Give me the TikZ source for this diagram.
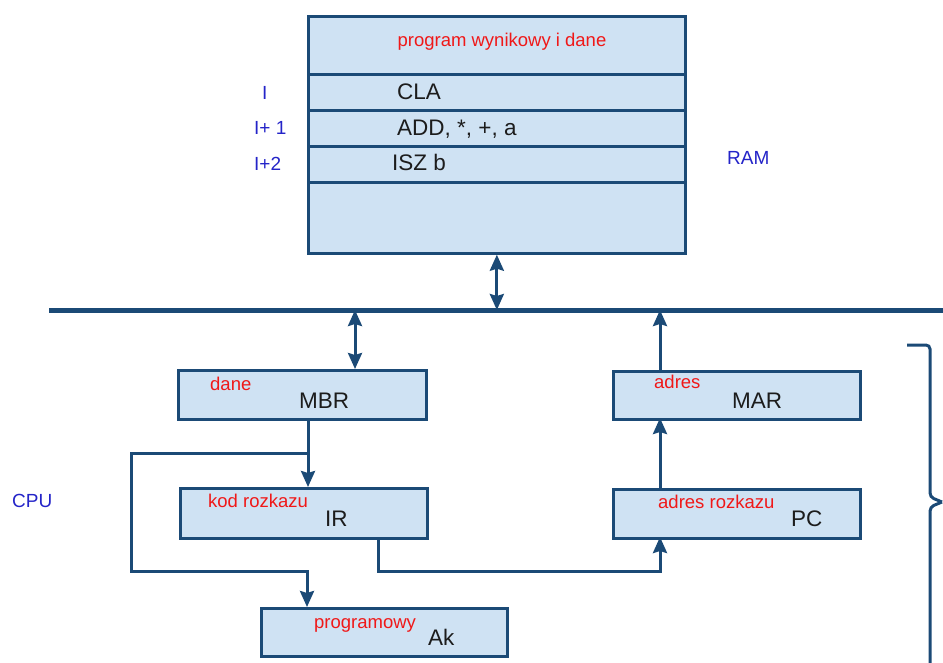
\documentclass[tikz,border=0pt]{standalone}
\usepackage{fontspec}
\setmainfont{Liberation Sans}
\usetikzlibrary{arrows.meta}
\definecolor{boxfill}{HTML}{CFE2F3}
\definecolor{navy}{HTML}{1B4A76}
\definecolor{lblblue}{HTML}{2424C8}
\definecolor{lblred}{HTML}{F01818}
\definecolor{ink}{HTML}{1C1C1C}
\tikzset{
  box/.style={draw=navy, fill=boxfill, line width=2.7pt, rectangle, inner sep=0pt, anchor=north west},
  conn/.style={draw=navy, line width=3pt, line join=miter},
  tip/.style={-{Stealth[length=16pt,width=14pt,inset=2pt]}},
  twotips/.style={{Stealth[length=16pt,width=14pt,inset=2pt]}-{Stealth[length=16pt,width=14pt,inset=2pt]}},
  busline/.style={draw=navy, line width=5pt},
  code/.style={font=\fontsize{22.5}{24}\selectfont, text=ink, inner sep=0pt, anchor=base west},
  reg/.style={font=\fontsize{22.5}{24}\selectfont, text=ink, inner sep=0pt, anchor=base west},
  tag/.style={font=\fontsize{18.5}{20}\selectfont, text=lblred, inner sep=0pt, anchor=base west},
  side/.style={font=\fontsize{19}{21}\selectfont, text=lblblue, inner sep=0pt, anchor=base west},
}
\begin{document}
\begin{tikzpicture}[x=1pt, y=-1pt]
\useasboundingbox (0,0) rectangle (943,662);

% memory block with its rows
\node[box, minimum width=377pt, minimum height=58pt] (ramhead) at (307,15) {};
\node[box, minimum width=377pt, minimum height=36pt] (row1) at (307,73) {};
\node[box, minimum width=377pt, minimum height=36pt] (row2) at (307,109) {};
\node[box, minimum width=377pt, minimum height=36pt] (row3) at (307,145) {};
\node[box, minimum width=377pt, minimum height=71pt] (ramfoot) at (307,181) {};

\node[tag, anchor=base] (ramtitle) at (502,46) {program wynikowy i dane};
\node[code] (cla) at (397,99) {CLA};
\node[code] (add) at (397,135) {ADD, *, +, a};
\node[code] (isz) at (392,170) {ISZ b};

\node[side] (addr0) at (262,99) {I};
\node[side] (addr1) at (254,134) {I+ 1};
\node[side] (addr2) at (254,170) {I+2};
\node[side] (ramlbl) at (727,164) {RAM};
\node[side] (cpulbl) at (12,507) {CPU};

% system bus
\coordinate (busL) at (49,310);
\coordinate (busR) at (945,310);
\draw[busline] (busL) -- (busR);

% registers
\node[box, minimum width=248pt, minimum height=49pt] (mbr) at (177,369) {};
\node[box, minimum width=247pt, minimum height=48pt] (mar) at (612,370) {};
\node[box, minimum width=247pt, minimum height=50pt] (ir) at (179,487) {};
\node[box, minimum width=247pt, minimum height=49pt] (pc) at (612,488) {};
\node[box, minimum width=246pt, minimum height=48pt] (ak) at (260,607) {};

\node[tag] (mbrtag) at (210,390) {dane};
\node[reg] (mbrname) at (299,408) {MBR};
\node[tag] (martag) at (654,388) {adres};
\node[reg] (marname) at (732,408) {MAR};
\node[tag] (irtag) at (208,507) {kod rozkazu};
\node[reg] (irname) at (325,526) {IR};
\node[tag] (pctag) at (658,508) {adres rozkazu};
\node[reg] (pcname) at (791,526) {PC};
\node[tag] (aktag) at (314,628) {programowy};
\node[reg] (akname) at (428,645) {Ak};

% connection points on the registers
\coordinate (mbrbus) at (355,369);
\coordinate (mbrout) at (308,418);
\coordinate (irin) at (308,487);
\coordinate (split) at (308,453);
\coordinate (loopL) at (131,453);
\coordinate (loopB) at (131,571);
\coordinate (akjoin) at (307,571);
\coordinate (akin) at (307,607);
\coordinate (irout) at (378,537);
\coordinate (irdown) at (378,571);
\coordinate (pcjoin) at (660,571);
\coordinate (pcin) at (660,537);
\coordinate (pcout) at (660,488);
\coordinate (marin) at (660,418);
\coordinate (marout) at (660,370);

% data paths
\draw[conn, twotips] (ramfoot.south) -- (ramfoot.south |- busL);
\draw[conn, twotips] (mbrbus |- busL) -- (mbrbus);
\draw[conn, tip] (marout) -- (marout |- busL);
\draw[conn, tip] (pcout) -- (marin);
\draw[conn, tip] (mbrout) -- (irin);
\draw[conn, tip] (split) -- (loopL) -- (loopB) -- (akjoin) -- (akin);
\draw[conn, tip] (irout) -- (irdown) -- (pcjoin) -- (pcin);

% brace grouping the processor registers
\coordinate (brtop) at (907,345);
\coordinate (brtip) at (942,502);
\coordinate (brend) at (930,670);
\draw[conn, rounded corners=4pt] (brtop) -- (930,345) -- (930,497) -- (brtip);
\draw[conn, rounded corners=4pt] (brtip) -- (930,507) -- (brend);
\end{tikzpicture}
\end{document}
